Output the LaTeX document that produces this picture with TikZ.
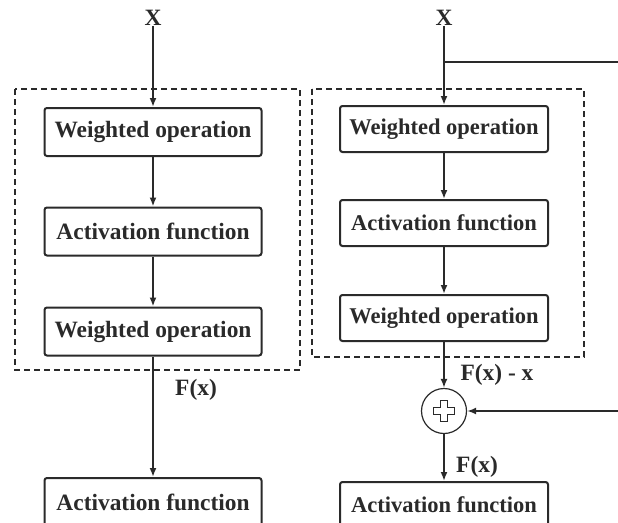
\documentclass[tikz,border=0pt]{standalone}
\usepackage{fontspec}
\setmainfont{Liberation Serif}
\usetikzlibrary{arrows.meta}
\definecolor{ink}{HTML}{2A2A2A}
\begin{document}
\begin{tikzpicture}[x=1pt,y=-1pt,
  box/.style={draw=ink, line width=2pt, rounded corners=2.5pt, minimum width=217pt, minimum height=48pt, inner sep=0pt, text=ink, font=\bfseries\fontsize{23.4}{26}\selectfont},
  rbox/.style={box, minimum width=208pt, minimum height=46pt, font=\bfseries\fontsize{22.5}{25}\selectfont},
  lbl/.style={inner sep=0pt, text=ink, font=\bfseries\fontsize{23.4}{26}\selectfont},
  arr/.style={draw=ink, line width=1.8pt, -{Latex[length=9pt,width=7pt]}},
  dbox/.style={draw=ink, line width=1.8pt, dash pattern=on 6pt off 4pt},
  sumnode/.style={draw=ink, line width=1.2pt, circle, minimum size=45pt, inner sep=0pt}
]
\clip (0,0) rectangle (618,522);
\useasboundingbox (0,0) rectangle (618,522);
\fill[white] (0,0) rectangle (618,522);

% left column
\node[lbl] (lx) at (153,18) {X};
\node[box] (lw1) at (153,132) {Weighted operation};
\node[box] (la1) at (153,231.5) {Activation function};
\node[box] (lw2) at (153,331.5) {Weighted operation};
\node[box] (la2) at (153,502) {Activation function};
\node[lbl] (lf) at (196,390) {F(x)};
\draw[dbox] (15,89) rectangle (300,370);
\draw[arr] (lx) -- (lw1);
\draw[arr] (lw1) -- (la1);
\draw[arr] (la1) -- (lw2);
\draw[arr] (lw2) -- (la2);

% right column
\node[lbl] (rx) at (444,18) {X};
\node[rbox] (rw1) at (444,129) {Weighted operation};
\node[rbox] (ra1) at (444,223) {Activation function};
\node[rbox] (rw2) at (444,318) {Weighted operation};
\node[sumnode] (sum) at (444,411) {};
\node[rbox] (ra2) at (444,505) {Activation function};
\node[lbl] (lfx) at (497,375) {F(x) - x};
\node[lbl] (lf2) at (477,467) {F(x)};
\draw[dbox] (312,89) rectangle (584,357);
\coordinate (br) at (444,62);
\coordinate (e1) at (640,62);
\coordinate (e2) at (640,411);
\draw[arr] (rx) -- (rw1);
\draw[arr] (br) -- (e1) -- (e2) -- (sum);
\draw[arr] (rw1) -- (ra1);
\draw[arr] (ra1) -- (rw2);
\draw[arr] (rw2) -- (sum);
\draw[arr] (sum) -- (ra2);
\draw[ink, line width=1.2pt, shift={(sum.center)}]
  (-3.5,-10.5) -- (3.5,-10.5) -- (3.5,-3.5) -- (10.5,-3.5) -- (10.5,3.5) -- (3.5,3.5)
  -- (3.5,10.5) -- (-3.5,10.5) -- (-3.5,3.5) -- (-10.5,3.5) -- (-10.5,-3.5) -- (-3.5,-3.5) -- cycle;
\end{tikzpicture}
\end{document}
